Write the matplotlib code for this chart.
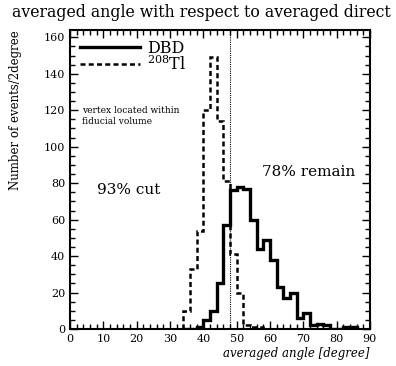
import numpy as np
import matplotlib
matplotlib.use('Agg')
import matplotlib.pyplot as plt
from matplotlib.ticker import MultipleLocator

plt.rcParams['font.family'] = 'DejaVu Serif'
plt.rcParams['mathtext.fontset'] = 'dejavuserif'

# 2-degree bins, 0..90 deg; counts per bin starting at bin_start
bin_start = [34, 36, 38, 40, 42, 44, 46, 48, 50, 52, 54, 56, 58, 60, 62, 64,
             66, 68, 70, 72, 74, 76, 78, 80, 82, 84]
dbd_counts = [0, 0, 1, 5, 10, 25, 57, 76, 78, 77, 60, 44, 49, 38, 23, 17,
              20, 6, 9, 2, 3, 2, 0, 0, 1, 1]
tl_counts = [10, 33, 54, 120, 149, 114, 81, 41, 20, 2, 1, 1, 0, 0, 0, 0,
             0, 0, 0, 0, 0, 0, 0, 0, 0, 0]
bin_width = 2
cut_angle = 48

title = 'averaged angle with respect to averaged direct'
xlabel = 'averaged angle [degree]'
ylabel = 'Number of events/2degree'

edges = np.append(bin_start, bin_start[-1] + bin_width)

fig = plt.figure(figsize=(3.96, 3.66), dpi=100)
ax = fig.add_axes([0.177, 0.101, 0.757, 0.817])

ax.stairs(dbd_counts, edges, color='black', lw=2.4, label='DBD')
ax.stairs(tl_counts, edges, color='black', lw=1.8, linestyle=(0, (2, 1.3)),
          label='$^{208}$Tl')
ax.axvline(cut_angle, color='black', lw=0.8, linestyle=(0, (1, 1)))

ax.set_xlim(0, 90)
ax.set_ylim(0, 164)
ax.xaxis.set_major_locator(MultipleLocator(10))
ax.xaxis.set_minor_locator(MultipleLocator(2))
ax.yaxis.set_major_locator(MultipleLocator(20))
ax.yaxis.set_minor_locator(MultipleLocator(5))
ax.tick_params(which='both', direction='in', top=True, right=True,
               labelsize=8, width=1.0)
ax.tick_params(which='major', length=6)
ax.tick_params(which='minor', length=3.5)
for sp in ax.spines.values():
    sp.set_linewidth(1.5)

ax.set_ylabel(ylabel, fontsize=8.5, loc='top')
ax.yaxis.set_label_coords(-0.16, 1.0)
ax.set_xlabel(xlabel, fontsize=8.5, loc='right', style='italic')
ax.xaxis.set_label_coords(1.0, -0.06)

leg = ax.legend(loc='upper left', bbox_to_anchor=(0.0, 1.0), frameon=False,
                fontsize=11.5, handlelength=3.8, handletextpad=0.4,
                labelspacing=-0.1, borderaxespad=0.2)

ax.text(0.04, 0.745, 'vertex located within\nfiducial volume',
        transform=ax.transAxes, fontsize=6.5, va='top', linespacing=1.3)
ax.text(17.7, 76, '93% cut', fontsize=11, ha='center', va='center')
ax.text(71.6, 86, '78% remain', fontsize=11, ha='center', va='center')

fig.text(0.03, 0.967, title, fontsize=11.3, va='center', ha='left')

fig.savefig('out.png', dpi=100)
